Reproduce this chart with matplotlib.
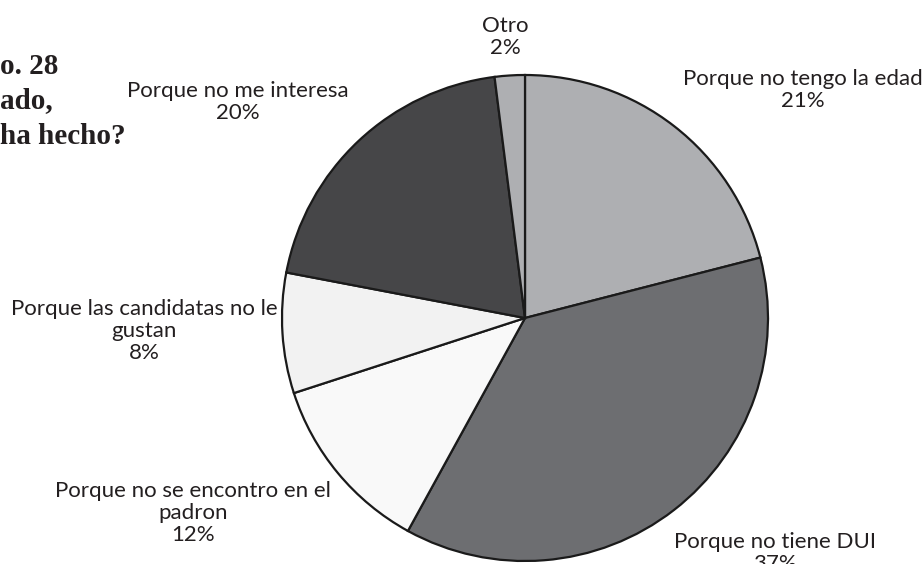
import matplotlib
matplotlib.use("Agg")
import matplotlib.pyplot as plt

# datos del grafico
razones = ["Porque no tengo la edad", "Porque no tiene DUI",
           "Porque no se encontro en el\npadron", "Porque las candidatas no le\ngustan",
           "Porque no me interesa", "Otro"]
porcentajes = [21, 37, 12, 8, 20, 2]
colores = ["#aeafb2", "#6d6e71", "#f9f9f9", "#f2f2f2", "#464648", "#aeafb2"]

# posicion de cada etiqueta (pixeles de la imagen, centro del bloque)
pos_px = [(803, 90), (775, 553), (193, 513), (144, 331), (238, 102), (505, 37)]

W, H = 924, 564
cx, cy, r = 525, 318, 243

fig = plt.figure(figsize=(W / 100, H / 100), dpi=100)
ax = fig.add_axes([0, 0, 1, 1])
ax.pie(porcentajes, colors=colores, startangle=90, counterclock=False, radius=1,
       wedgeprops=dict(edgecolor="#1a1a1a", linewidth=1.6))
ax.set_aspect("auto")
ax.set_xlim(-cx / r, (W - cx) / r)
ax.set_ylim((cy - H) / r, cy / r)
ax.axis("off")

for txt, p, (px, py) in zip(razones, porcentajes, pos_px):
    ax.text((px - cx) / r, (cy - py) / r, txt + "\n" + str(p) + "%",
            ha="center", va="center", fontsize=16, family="Lato",
            color="#231f20", linespacing=1.1)

# titulo (cortado a la izquierda)
titulo = ["o. 28", "ado,", "ha hecho?"]
ys = [66, 101, 136]
for t, y in zip(titulo, ys):
    fig.text(0.0, 1 - y / H, t, ha="left", va="center", fontsize=21,
             family="Liberation Serif", weight="bold", color="#231f20")

fig.savefig("out.png", dpi=100)
